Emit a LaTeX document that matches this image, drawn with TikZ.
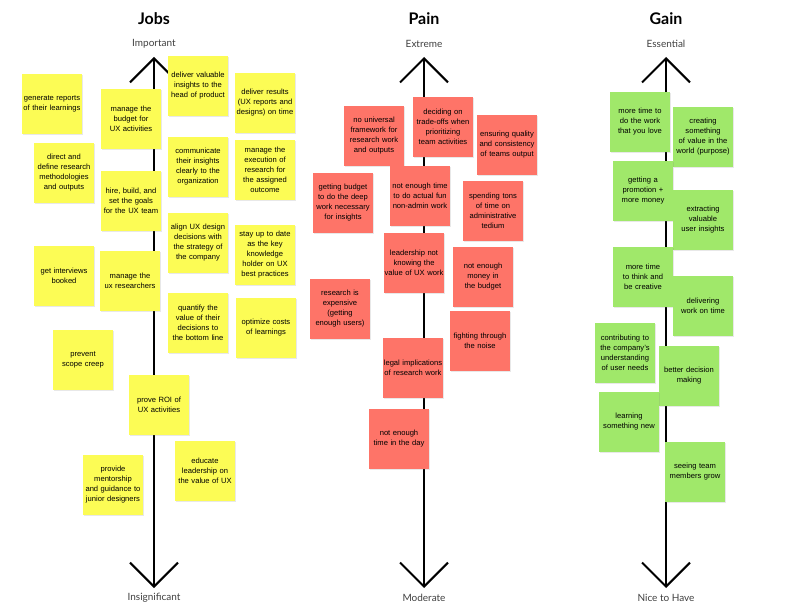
\documentclass[tikz,border=0pt]{standalone}
\usepackage{fontspec}
\setmainfont{Liberation Sans}
\newfontfamily\headfont{Lato}
\usetikzlibrary{arrows.meta,shadows}
\definecolor{jobyellow}{HTML}{FCFC55}
\definecolor{painred}{HTML}{FE7468}
\definecolor{gaingreen}{HTML}{A0E86A}
\begin{document}
\begin{tikzpicture}[
	x=1pt, y=-1pt,
	note/.style={shape=rectangle, minimum size=60pt, inner sep=0pt, text width=59pt, align=center,
		font=\fontsize{7.6}{10}\selectfont,
		execute at begin node={\hyphenpenalty=10000\exhyphenpenalty=10000},
		drop shadow={opacity=0.18, shadow xshift=1pt, shadow yshift=-1pt}},
	jobnote/.style={note, fill=jobyellow},
	painnote/.style={note, fill=painred},
	gainnote/.style={note, fill=gaingreen},
	axis/.style={line width=2pt, {Straight Barb[length=24pt,width=48pt,line width=2pt]}-{Straight Barb[length=24pt,width=48pt,line width=2pt]}},
	title/.style={font=\headfont\bfseries\fontsize{16}{19}\selectfont},
	scalelabel/.style={font=\headfont\fontsize{10}{12}\selectfont, text=black!75},
]
\useasboundingbox (0,0) rectangle (792,612);

% titles and scales
\foreach \name/\x/\head/\hi/\lo in {jobs/154/Jobs/Important/Insignificant, pain/424/Pain/Extreme/Moderate, gain/666/Gain/Essential/Nice to Have} {
	\node[title] (\name title) at (\x,19) {\head};
	\node[scalelabel] (\name hi) at (\x,44) {\hi};
	\node[scalelabel] (\name lo) at (\x,598) {\lo};
	\coordinate (\name top) at (\x,57);
	\coordinate (\name bottom) at (\x,588);
	\draw[axis] (\name bottom) -- (\name top);
}

% jobs
\node[jobnote] (j1) at (52,104) {generate reports of their learnings};
\node[jobnote] (j2) at (131,119) {manage the budget for UX activities};
\node[jobnote] (j3) at (198,86) {deliver valuable insights to the head of product};
\node[jobnote] (j4) at (265,103) {deliver results (UX reports and designs) on time};
\node[jobnote] (j5) at (64,173) {direct and define research methodologies and outputs};
\node[jobnote] (j6) at (131,201) {hire, build, and set the goals for the UX team};
\node[jobnote] (j7) at (198,167) {communicate their insights clearly to the organization};
\node[jobnote] (j8) at (265,170) {manage the execution of research for the assigned outcome};
\node[jobnote] (j9) at (64,276) {get interviews booked};
\node[jobnote] (j10) at (130,281) {manage the ux researchers};
\node[jobnote] (j11) at (198,243) {align UX design decisions with the strategy of the company};
\node[jobnote] (j12) at (265,255) {stay up to date as the key knowledge holder on UX best practices};
\node[jobnote] (j13) at (198,323) {quantify the value of their decisions to the bottom line};
\node[jobnote] (j14) at (266,328) {optimize costs of learnings};
\node[jobnote] (j15) at (83,360) {prevent scope creep};
\node[jobnote] (j16) at (159,405) {prove ROI of UX activities};
\node[jobnote] (j17) at (205,471) {educate leadership on the value of UX};
\node[jobnote] (j18) at (113,485) {provide mentorship and guidance to junior designers};

% pain
\node[painnote] (p1) at (374,136) {no universal framework for research work and outputs};
\node[painnote] (p2) at (443,127) {deciding on trade-offs when prioritizing team activities};
\node[painnote] (p3) at (507,145) {ensuring quality and consistency of teams output};
\node[painnote] (p4) at (343,203) {getting budget to do the deep work necessary for insights};
\node[painnote] (p5) at (420,196) {not enough time to do actual fun non-admin work};
\node[painnote] (p6) at (493,211) {spending tons of time on administrative tedium};
\node[painnote] (p7) at (414,263) {leadership not knowing the value of UX work};
\node[painnote] (p8) at (483,277) {not enough money in the budget};
\node[painnote] (p9) at (340,309) {research is expensive (getting enough users)};
\node[painnote] (p10) at (480,341) {fighting through the noise};
\node[painnote] (p11) at (413,368) {legal implications of research work};
\node[painnote] (p12) at (399,439) {not enough time in the day};

% gain
\node[gainnote] (g1) at (640,122) {more time to do the work that you love};
\node[gainnote] (g2) at (703,137) {creating something of value in the world (purpose)};
\node[gainnote] (g3) at (643,191) {getting a promotion + more money};
\node[gainnote] (g4) at (703,220) {extracting valuable user insights};
\node[gainnote] (g5) at (643,277) {more time to think and be creative};
\node[gainnote] (g6) at (703,306) {delivering work on time};
\node[gainnote] (g7) at (625,353) {contributing to the company's understanding of user needs};
\node[gainnote] (g8) at (689,376) {better decision making};
\node[gainnote] (g9) at (629,422) {learning something new};
\node[gainnote] (g10) at (695,472) {seeing team members grow};
\end{tikzpicture}
\end{document}
